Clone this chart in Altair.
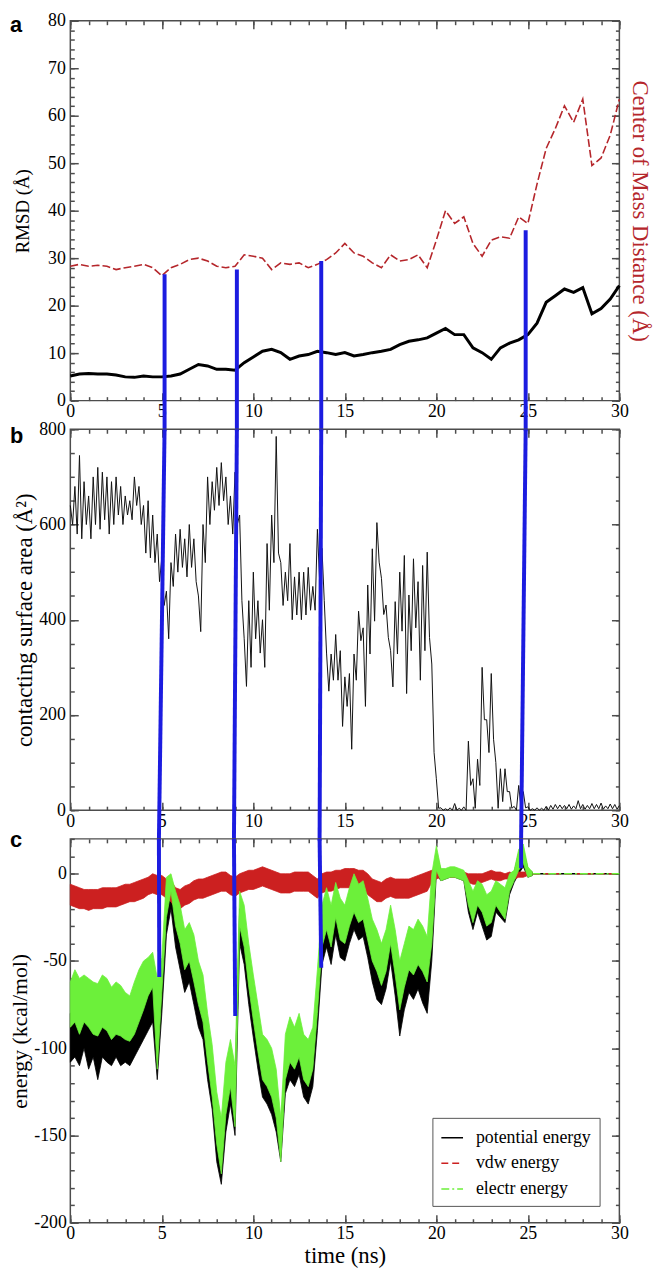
import altair as alt
import pandas as pd

SERIF = "Liberation Serif"
SANS = "Liberation Sans"
TICK = "#4d4d4d"
BLUE = "#1c1ce0"
RED_A = "#b5262b"

W = 555
HA, HB, HC = 384, 385, 388
GAP = 29

X_MAJOR = [0, 5, 10, 15, 20, 25, 30]
X_MINOR = list(range(0, 31))
PANEL_LABELS = ["a", "b", "c"]
LABEL_BASELINE = [11, 14, 8]

# ---------------- panel a : RMSD and centre of mass distance (0.5 ns samples) ----------------
A_STEP = 0.5
RMSD = [5.2, 5.6, 5.7, 5.6, 5.6, 5.4, 5.0, 4.9, 5.2, 5.0,
        5.0, 5.2, 5.6, 6.6, 7.6, 7.3, 6.6, 6.6, 6.4, 8.0,
        9.2, 10.4, 10.8, 10.1, 8.7, 9.4, 9.7, 10.4, 10.1, 9.7,
        10.1, 9.4, 9.7, 10.1, 10.4, 10.8, 11.8, 12.5, 12.8, 13.2,
        14.2, 15.2, 13.9, 13.9, 11.1, 10.1, 8.7, 11.1, 12.1, 12.8,
        13.9, 16.3, 20.7, 22.1, 23.5, 22.8, 23.8, 18.3, 19.4, 21.4,
        24.2]
COM = [28.3, 28.7, 28.3, 28.5, 28.3, 27.6, 28.0, 28.3, 28.7, 28.0,
       26.3, 28.0, 28.7, 29.7, 30.0, 29.4, 28.3, 28.0, 28.3, 30.7,
       30.4, 30.0, 27.6, 29.0, 28.7, 29.0, 28.0, 28.7, 29.7, 31.1,
       33.1, 31.1, 30.4, 29.0, 28.0, 30.7, 29.4, 29.7, 30.7, 28.0,
       33.8, 40.0, 37.3, 38.7, 33.1, 30.4, 33.8, 34.5, 34.2, 38.7,
       37.3, 45.6, 53.1, 57.3, 62.1, 58.6, 63.5, 49.5, 51.1, 55.9,
       63.5]

# ---------------- panel b : contacting surface area, upper / lower envelope every 0.25 ns ----------------
B_STEP = 0.25
CSA_HI = [640, 680, 745, 690, 660, 700, 720, 710,
          700, 690, 700, 680, 660, 650, 700, 680,
          640, 650, 620, 580, 530, 460, 520, 580,
          590, 570, 600, 570, 450, 600, 700, 690,
          720, 730, 700, 660, 710, 620, 360, 440,
          500, 440, 400, 560, 620, 785, 520, 500,
          560, 490, 500, 500, 510, 470, 590, 550,
          330, 328, 369, 335, 280, 287, 328, 418,
          383, 473, 549, 604, 487, 431, 335, 438,
          500, 535, 452, 528, 480, 514, 542, 307,
          66, 5, 3, 5, 14, 4, 7, 145,
          66, 107, 300, 190, 287, 100, 87, 87,
          39, 8, 52, 39, 7, 3, 5, 4,
          8, 10, 12, 11, 10, 12, 9, 20,
          12, 10, 14, 12, 15, 9, 13, 12,
          10]
CSA_LO = [600, 580, 570, 600, 570, 600, 590, 610,
          580, 600, 620, 600, 620, 610, 640, 600,
          540, 530, 520, 480, 430, 360, 470, 500,
          510, 490, 510, 480, 375, 520, 600, 630,
          640, 650, 600, 580, 600, 440, 260, 300,
          360, 330, 300, 420, 520, 540, 430, 440,
          400, 410, 400, 410, 420, 420, 480, 440,
          250, 273, 273, 176, 218, 128, 273, 356,
          218, 328, 397, 521, 411, 363, 259, 328,
          376, 245, 335, 383, 273, 335, 363, 121,
          4, 0, 0, 0, 0, 0, 0, 52,
          4, 52, 190, 121, 149, 4, 18, 39,
          4, 0, 5, 5, 0, 0, 0, 0,
          0, 2, 3, 3, 3, 2, 3, 3,
          2, 3, 3, 3, 2, 3, 3, 2,
          3]

# ---------------- panel c : energies, upper / lower envelope every 0.25 ns (0 - 25.25 ns) ----------------
C_STEP = 0.25
ELE_HI = [-62, -55, -60, -58, -60, -62, -63, -58,
          -60, -65, -62, -64, -68, -70, -62, -55,
          -50, -48, -45, -60, -48, -2, 0, -10,
          -18, -32, -28, -35, -50, -58, -80, -98,
          -125, -140, -108, -95, -110, -10, -18, -40,
          -58, -75, -92, -95, -100, -112, -140, -92,
          -82, -88, -80, -92, -95, -88, -55, -18,
          -8, -18, -5, -14, -18, -8, 0, -6,
          -4, -14, -26, -32, -40, -32, -18, -32,
          -50, -40, -30, -32, -26, -30, -36, 0,
          16, 3, 3, 4, 4, 3, 2, -4,
          -10, -4, -6, -12, -10, -4, -6, -8,
          0, 2, 14, 17, 4, 1]
ELE_LO = [-88, -85, -92, -85, -88, -92, -93, -88,
          -90, -95, -92, -93, -95, -96, -92, -85,
          -78, -70, -65, -112, -68, -25, -10, -30,
          -40, -55, -50, -62, -75, -85, -108, -128,
          -155, -172, -138, -122, -145, -30, -42, -65,
          -84, -102, -118, -122, -128, -140, -165, -118,
          -108, -112, -105, -118, -122, -112, -80, -42,
          -32, -42, -25, -38, -40, -30, -22, -28,
          -26, -38, -50, -56, -64, -56, -40, -58,
          -78, -65, -55, -58, -52, -56, -62, -40,
          2, -4, -3, -2, -2, -3, -4, -18,
          -28, -18, -22, -30, -28, -18, -22, -26,
          -10, -4, 2, 6, -2, -1]
POT_HI = [-80, -78, -85, -80, -82, -85, -88, -82,
          -85, -88, -85, -88, -90, -92, -86, -80,
          -72, -66, -62, -75, -62, -12, -5, -20,
          -30, -45, -40, -48, -62, -70, -90, -110,
          -135, -150, -120, -105, -120, -20, -28, -50,
          -68, -85, -102, -105, -110, -120, -148, -102,
          -92, -98, -90, -102, -105, -98, -65, -28,
          -18, -28, -15, -24, -28, -18, -10, -16,
          -14, -24, -36, -42, -50, -42, -28, -42,
          -60, -50, -40, -42, -36, -40, -46, -10,
          12, 2, 2, 3, 3, 2, 1, -8,
          -14, -8, -10, -16, -14, -8, -10, -12,
          -2, 1, 12, 14, 3, 1]
POT_LO = [-108, -105, -110, -100, -112, -105, -118, -105,
          -108, -110, -105, -110, -108, -110, -105, -100,
          -95, -90, -85, -118, -80, -35, -20, -42,
          -55, -68, -62, -75, -88, -95, -118, -135,
          -165, -178, -148, -132, -150, -40, -52, -75,
          -94, -112, -128, -132, -138, -148, -165, -126,
          -118, -122, -115, -128, -132, -122, -90, -52,
          -42, -52, -35, -48, -50, -40, -32, -38,
          -36, -48, -62, -72, -75, -66, -50, -70,
          -93, -78, -68, -72, -66, -74, -80, -50,
          0, -4, -3, -2, -2, -3, -4, -22,
          -32, -22, -30, -38, -36, -22, -25, -28,
          -12, -5, 0, 4, -2, -1]
VDW_HI = [-6, -7, -8, -9, -9, -9, -9, -8,
          -8, -8, -8, -7, -6, -6, -5, -4,
          -3, -2, 0, -1, -1, -3, -4, -8,
          -9, -7, -6, -4, -3, -3, -2, -1,
          0, 1, 1, -1, -2, 0, 1, 2,
          2, 3, 4, 3, 2, 1, 0, 0,
          0, 1, 1, 1, 1, -1, -3, 0,
          1, 1, 2, 2, 3, 3, 3, 2,
          2, 0, -3, -4, -5, -3, -2, -3,
          -3, -3, -3, -2, -1, 0, 1, 2,
          3, 2, 2, 2, 1, 1, 1, 0,
          0, 0, 0, 1, 2, 1, 1, 0,
          1, 0, 1, 1, 1, 0]
VDW_LO = [-18, -19, -20, -20, -21, -20, -20, -20,
          -19, -19, -19, -18, -17, -16, -16, -15,
          -14, -12, -11, -12, -12, -14, -16, -20,
          -20, -18, -17, -15, -14, -14, -13, -12,
          -11, -10, -10, -12, -13, -11, -10, -9,
          -9, -8, -7, -8, -9, -10, -11, -11,
          -11, -10, -10, -10, -10, -12, -14, -11,
          -10, -10, -9, -8, -8, -8, -8, -9,
          -9, -12, -14, -16, -16, -14, -13, -14,
          -14, -14, -14, -13, -12, -11, -10, -5,
          -3, -2, -2, -2, -2, -2, -3, -5,
          -6, -6, -5, -4, -3, -4, -4, -3,
          -3, -3, -2, -2, -1, 0]
TAIL_T = [25.25, 30.0]
TAIL_V = [0.0, 0.0]

SERIES = ["potential energy", "vdw energy", "electr energy"]
COLORS = ["#000000", "#cc2020", "#6cf03a"]
DASHES = [[1, 0], [7, 4], [8, 3, 2, 3]]

# ---------------- blue marker lines ----------------
BLUE_A_X = [5.15, 9.10, 13.71, 24.88]     # position in panel a
BLUE_A_Y = [26.6, 27.6, 29.4, 35.9]       # start value in panel a
BLUE_C_X_TOP = [4.84, 8.94, 13.62, 24.63]  # position at top of panel c
BLUE_C_X_BOT = [4.86, 9.01, 13.71, 24.63]  # position at the end in panel c
BLUE_C_Y = [-59.2, -81.5, -53.9, 3.2]      # end value in panel c

for hi, lo in [(CSA_HI, CSA_LO), (ELE_HI, ELE_LO), (POT_HI, POT_LO), (VDW_HI, VDW_LO)]:
    assert len(hi) == len(lo)
assert len(RMSD) == len(COM) == 61 and len(CSA_HI) == 121 and len(ELE_HI) == 102


def zig(step, hi, lo):
    t, v = [], []
    for i, (h, l) in enumerate(zip(hi, lo)):
        t.append(i * step)
        v.append(h)
        if i * step + step / 2 <= 30:
            t.append(i * step + step / 2)
            v.append(l)
    return t, v


df_a = pd.DataFrame({"t": [i * A_STEP for i in range(len(RMSD))], "rmsd": RMSD, "com": COM})
bt, bv = zig(B_STEP, CSA_HI, CSA_LO)
df_b = pd.DataFrame({"t": bt, "v": bv})
band_rows = []
for name, hi, lo in zip(SERIES, [POT_HI, VDW_HI, ELE_HI], [POT_LO, VDW_LO, ELE_LO]):
    band_rows += [{"t": i * C_STEP, "hi": h, "lo": l, "series": name}
                  for i, (h, l) in enumerate(zip(hi, lo))]
df_c = pd.DataFrame(band_rows)
df_tail = pd.DataFrame([{"t": a, "v": b, "series": s} for s in SERIES for a, b in zip(TAIL_T, TAIL_V)])
blue_a = pd.DataFrame({"x": BLUE_A_X, "y": BLUE_A_Y})
blue_b = pd.DataFrame({"x": BLUE_A_X, "x2": BLUE_C_X_TOP})
blue_c = pd.DataFrame({"x": BLUE_C_X_BOT, "x2": BLUE_C_X_TOP, "y": BLUE_C_Y})

xs = alt.Scale(domain=[0, 30], nice=False, zero=False)


def axis(orient, values, size, labels=False, pad=0, title=None, tsize=18, tpad=0,
         tcolor="black", tangle=None):
    kw = dict(orient=orient, values=values, tickSize=size, offset=-size, domain=False,
              grid=False, ticks=True, tickColor=TICK, tickWidth=1.5, labels=labels, title=title)
    if labels:
        kw.update(labelFont=SERIF, labelFontSize=18, labelColor="black", labelPadding=pad,
                  labelFlush=False, labelOverlap=False, labelExpr="'' + datum.value")
    if title:
        kw.update(titleFont=SERIF, titleFontSize=tsize, titleFontWeight="normal",
                  titleColor=tcolor, titlePadding=tpad)
        if tangle is not None:
            kw["titleAngle"] = tangle
    return alt.Axis(**kw)


def frame_axes(df, xf, yf, ys, ymaj, ymnr, ytitle, ytsize, ytpad, ylpad=5,
               xtitle=None, rtitle=None, rcolor="black"):
    base = alt.Chart(df).mark_point(opacity=0)

    def enc(xa, ya):
        return base.encode(x=alt.X(xf, type="quantitative", scale=xs, axis=xa),
                           y=alt.Y(yf, type="quantitative", scale=ys, axis=ya))
    return [
        enc(axis("bottom", X_MAJOR, 8, True, 2, xtitle, 23, 2),
            axis("left", ymaj, 8, True, ylpad, ytitle, ytsize, ytpad)),
        enc(axis("bottom", X_MINOR, 4), axis("left", ymnr, 4)),
        enc(axis("top", X_MAJOR, 8),
            axis("right", ymaj, 8, title=rtitle, tsize=23, tpad=8, tcolor=rcolor, tangle=90)),
        enc(axis("top", X_MINOR, 4), axis("right", ymnr, 4)),
    ]


def letter(i):
    return alt.Chart(pd.DataFrame({"txt": [PANEL_LABELS[i]]})).mark_text(
        align="left", baseline="alphabetic", font=SANS, fontSize=22, fontWeight="bold",
        color="black").encode(x=alt.value(-61), y=alt.value(LABEL_BASELINE[i]), text="txt:N")


# ---- panel a
ys_a = alt.Scale(domain=[0, 80], nice=False, zero=False)
pa_layers = frame_axes(df_a, "t", "rmsd", ys_a, list(range(0, 81, 10)), list(range(0, 81, 2)),
                       "RMSD (Å)", 19, 15, rtitle="Center of Mass Distance (Å)", rcolor=RED_A)
pa_layers += [
    alt.Chart(df_a).mark_line(color=RED_A, strokeWidth=1.6, strokeDash=[8, 3]).encode(
        x=alt.X("t:Q", scale=xs, axis=None), y=alt.Y("com:Q", scale=ys_a, axis=None)),
    alt.Chart(df_a).mark_line(color="black", strokeWidth=3).encode(
        x=alt.X("t:Q", scale=xs, axis=None), y=alt.Y("rmsd:Q", scale=ys_a, axis=None)),
    alt.Chart(blue_a).mark_rule(color=BLUE, strokeWidth=4).encode(
        x=alt.X("x:Q", scale=xs, axis=None), y=alt.Y("y:Q", scale=ys_a, axis=None),
        y2=alt.value(HA + GAP + 2)),
    letter(0),
]
pa = alt.layer(*pa_layers).resolve_axis(x="independent", y="independent").properties(
    width=W, height=HA)

# ---- panel b
ys_b = alt.Scale(domain=[0, 800], nice=False, zero=False)
pb_layers = frame_axes(df_b, "t", "v", ys_b, list(range(0, 801, 200)), list(range(0, 801, 50)),
                       "contacting surface area (Å²)", 23, 2)
pb_layers += [
    alt.Chart(df_b).mark_line(color="#111111", strokeWidth=1).encode(
        x=alt.X("t:Q", scale=xs, axis=None), y=alt.Y("v:Q", scale=ys_b, axis=None)),
    alt.Chart(blue_b).mark_rule(color=BLUE, strokeWidth=4).encode(
        x=alt.X("x:Q", scale=xs, axis=None), x2="x2:Q",
        y=alt.value(0), y2=alt.value(HB + GAP + 2)),
    letter(1),
]
pb = alt.layer(*pb_layers).resolve_axis(x="independent", y="independent").properties(
    width=W, height=HB)

# ---- panel c
ys_c = alt.Scale(domain=[-200, 20], nice=False, zero=False)
cscale = alt.Scale(domain=SERIES, range=COLORS)
dscale = alt.Scale(domain=SERIES, range=DASHES)
LEG = alt.Legend(title=None, orient="none", legendX=366, legendY=282, labelFont=SERIF,
                 labelFontSize=18, labelColor="black", symbolType="stroke", symbolSize=480,
                 symbolStrokeWidth=1.5, strokeColor="#555555", fillColor="white", padding=8,
                 rowPadding=5, labelOffset=12)
pc_layers = frame_axes(df_c, "t", "hi", ys_c, list(range(-200, 1, 50)), list(range(-200, 21, 10)),
                       "energy (kcal/mol)", 22, 2, ylpad=4, xtitle="time (ns)")
for name, col in zip(SERIES, COLORS):
    pc_layers.append(
        alt.Chart(df_c).transform_filter(alt.datum.series == name).mark_area(
            color=col, opacity=1, stroke=col, strokeWidth=0.8).encode(
            x=alt.X("t:Q", scale=xs, axis=None), y=alt.Y("lo:Q", scale=ys_c, axis=None),
            y2="hi:Q"))
pc_layers += [
    alt.Chart(df_tail).mark_line(strokeWidth=1.5).encode(
        x=alt.X("t:Q", scale=xs, axis=None), y=alt.Y("v:Q", scale=ys_c, axis=None),
        color=alt.Color("series:N", scale=cscale, legend=LEG),
        strokeDash=alt.StrokeDash("series:N", scale=dscale, legend=LEG)),
    alt.Chart(blue_c).mark_rule(color=BLUE, strokeWidth=4).encode(
        x=alt.X("x:Q", scale=xs, axis=None), x2="x2:Q",
        y=alt.Y("y:Q", scale=ys_c, axis=None), y2=alt.value(0)),
    letter(2),
]
pc = alt.layer(*pc_layers).resolve_axis(x="independent", y="independent").properties(
    width=W, height=HC)

chart = alt.vconcat(pa, pb, pc, spacing=GAP, bounds="flush").resolve_scale(
    color="independent", strokeDash="independent").resolve_legend(
    color="independent", strokeDash="independent").configure_view(
    stroke=TICK, strokeWidth=1.5).properties(
    padding={"left": 0, "top": -4, "right": 2, "bottom": 2})

chart.save("out.html", embed_options={"renderer": "svg", "actions": False})
